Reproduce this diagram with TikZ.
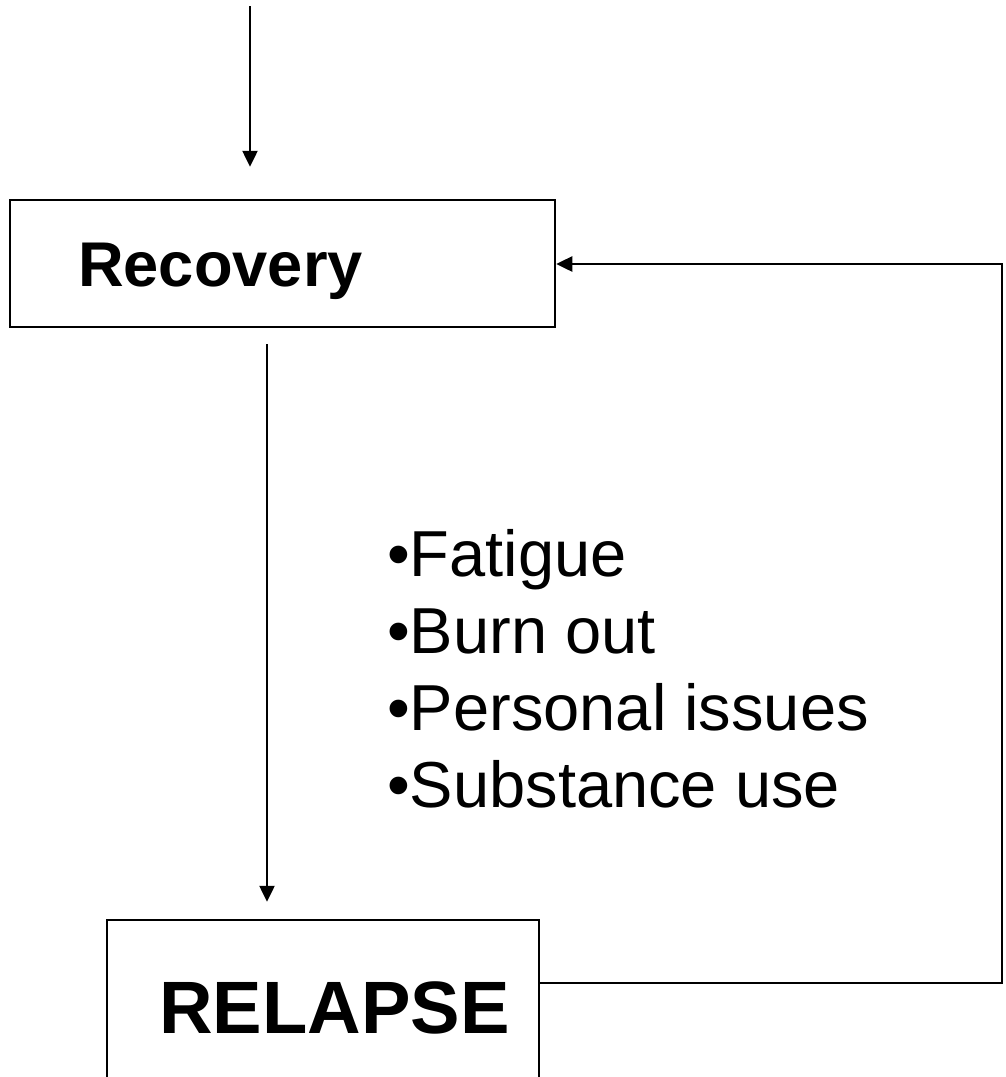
\documentclass[tikz,border=0pt]{standalone}
\usepackage{fontspec}
\setmainfont{Liberation Sans}
\usetikzlibrary{arrows.meta}
\begin{document}
\begin{tikzpicture}[x=1pt,y=-1pt,
  boxshape/.style={draw, line width=2.5pt, inner sep=0pt},
  conn/.style={-{Triangle[width=15pt,length=16pt]}, line width=2.5pt},
  lbl/.style={inner sep=0pt, anchor=base west}]
\useasboundingbox (0,0) rectangle (1005,1077);
% boxes
\node[boxshape, minimum width=545pt, minimum height=127pt] (rec) at (282.5,263.5) {};
\node[boxshape, minimum width=432pt, minimum height=200pt] (rel) at (323,1020) {};
% labels
\node[lbl] (rectxt) at (78,286) {\fontsize{63.2pt}{70pt}\selectfont\bfseries Recovery};
\node[lbl] (reltxt) at (159,1033) {\fontsize{74.2pt}{80pt}\selectfont\bfseries RELAPSE};
\node[inner sep=0pt, anchor=north west, align=left, font=\fontsize{65pt}{77pt}\selectfont] (causes) at (387,529)
  {•Fatigue\\•Burn out\\•Personal issues\\•Substance use};
% connectors
\coordinate (top) at (250,6);
\draw[conn, shorten >=32pt] (top) -- (top |- rec.north);
\coordinate (mid) at (267,0);
\draw[conn, shorten <=16pt, shorten >=17pt] (rec.south -| mid) -- (rel.north -| mid);
\coordinate (fbl) at (1002,983);
\coordinate (fbu) at (1002,264);
\draw[conn] (fbl -| rel.east) -- (fbl) -- (fbu) -- (fbu -| rec.east);
\end{tikzpicture}
\end{document}
